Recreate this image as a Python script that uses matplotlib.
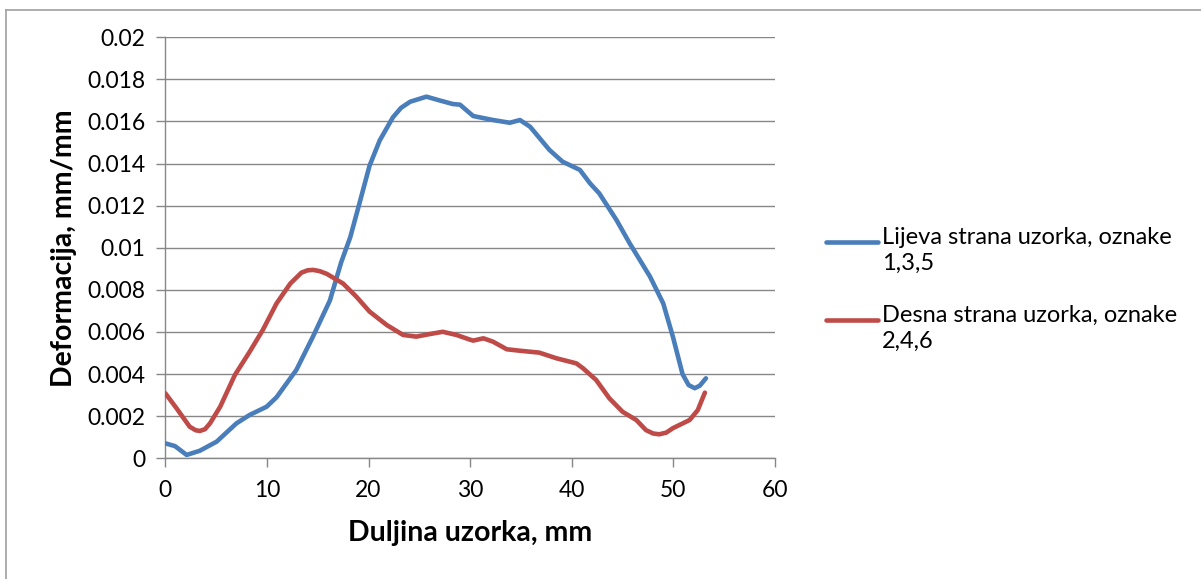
import matplotlib
matplotlib.use("Agg")
import matplotlib.pyplot as plt
from matplotlib.lines import Line2D
from matplotlib.ticker import FuncFormatter, MultipleLocator

# Lijeva strana uzorka (oznake 1,3,5)
lijeva_x = [0, 0.95, 2.1, 3.4, 5.05, 7.0, 8.3, 9.97, 10.95, 12.9, 14.55, 16.2, 17.3,
            18.2, 19.1, 20.1, 21.1, 22.4, 23.2, 24.1, 25.7, 27.0, 28.3, 29.0, 30.3, 32.25,
            33.9, 34.9, 35.9, 37.8, 39.1, 40.8, 41.8, 42.7, 44.4, 45.7, 47.7, 49.0,
            49.95, 50.9, 51.5, 52.1, 52.6, 53.2]
lijeva_y = [0.00071, 0.00058, 0.00016, 0.00036, 0.00079, 0.00166, 0.00206, 0.00245,
            0.0029, 0.0042, 0.0058, 0.0075, 0.0093, 0.0105, 0.0121, 0.0139, 0.0151,
            0.0162, 0.01665, 0.01694, 0.01718, 0.0170, 0.01683, 0.0168, 0.01626, 0.01607,
            0.01594, 0.01607, 0.01575, 0.01465, 0.01409, 0.0137, 0.01306, 0.01259,
            0.01132, 0.01021, 0.00863, 0.00736, 0.00578, 0.0040, 0.00348, 0.00333,
            0.00345, 0.0038]

# Desna strana uzorka (oznake 2,4,6)
desna_x = [0, 1.1, 2.4, 3.0, 3.4, 3.9, 4.4, 5.4, 6.85, 8.3, 9.6, 10.95, 12.3, 13.4,
           14.0, 14.55, 15.2, 15.9, 17.5, 18.8, 20.1, 21.8, 23.4, 24.7, 26.0, 27.3,
           28.65, 29.9, 30.3, 31.3, 32.25, 33.6, 34.9, 36.8, 38.5, 40.45, 41.1, 42.4,
           43.7, 45.0, 46.35, 47.3, 48.0, 48.6, 49.3, 49.95, 51.6, 52.4, 53.1]
desna_y = [0.00309, 0.00238, 0.0015, 0.00133, 0.0013, 0.00138, 0.00166, 0.00245,
           0.00396, 0.00506, 0.0061, 0.00736, 0.0083, 0.00882, 0.00893, 0.00895,
           0.00889, 0.00876, 0.0083, 0.00768, 0.00697, 0.00633, 0.00586, 0.00578,
           0.0059, 0.00601, 0.00586, 0.00565, 0.00559, 0.0057, 0.00554, 0.00518,
           0.00511, 0.00502, 0.00475, 0.00451, 0.00428, 0.00372, 0.00285, 0.00221,
           0.00182, 0.00134, 0.00118, 0.00114, 0.00122, 0.00143, 0.00182, 0.00229,
           0.00312]

series_labels = ["Lijeva strana uzorka, oznake\n1,3,5",
                 "Desna strana uzorka, oznake\n2,4,6"]
series_colors = ["#4A7EBB", "#BE4B48"]

W, H = 1201, 579
plt.rcParams['font.family'] = ['Lato', 'DejaVu Sans']
grey = "#878787"

fig = plt.figure(figsize=(W / 100, H / 100), dpi=100)
ax = fig.add_axes([165.3 / W, 1 - 458.3 / H, (775 - 165.3) / W, (458.3 - 37.3) / H])

for xs, ys, c in [(lijeva_x, lijeva_y, series_colors[0]),
                  (desna_x, desna_y, series_colors[1])]:
    ax.plot(xs, ys, color=c, lw=3.3, solid_capstyle='round',
            solid_joinstyle='round', zorder=3)

ax.set_xlim(0, 60)
ax.set_ylim(0, 0.02)
ax.xaxis.set_major_locator(MultipleLocator(10))
ax.yaxis.set_major_locator(MultipleLocator(0.002))
ax.yaxis.set_major_formatter(FuncFormatter(lambda v, p: f"{round(v, 4):g}"))

ax.grid(axis='y', color=grey, lw=1.0)
ax.set_axisbelow(True)
for side in ['top', 'right']:
    ax.spines[side].set_visible(False)
for side in ['left', 'bottom']:
    ax.spines[side].set_color(grey)
    ax.spines[side].set_linewidth(1.0)
ax.tick_params(axis='both', direction='out', length=6.5, width=1.0, color=grey,
               labelsize=16.5, labelcolor='black')
ax.tick_params(axis='y', pad=8)
ax.tick_params(axis='x', pad=9)

ax.set_xlabel("Duljina uzorka, mm", fontsize=20.5, fontweight='bold', labelpad=14)
ax.set_ylabel("Deformacija, mm/mm", fontsize=20.5, fontweight='bold', labelpad=7)

# legend on the right, handle aligned with the first text line
entry_tops = [242, 320]
for label, color, yc in zip(series_labels, series_colors, entry_tops):
    fig.add_artist(Line2D([826 / W, 878 / W], [1 - yc / H, 1 - yc / H],
                          color=color, lw=3.3, solid_capstyle='round'))
    fig.text(882 / W, 1 - (yc - 15) / H, label, fontsize=17, va='top', ha='left',
             linespacing=1.3, color='black')

# chart frame
fig.add_artist(Line2D([6 / W, 1], [1 - 10 / H, 1 - 10 / H], color="#a0a0a0", lw=1.2))
fig.add_artist(Line2D([6 / W, 6 / W], [0, 1 - 10 / H], color="#a0a0a0", lw=1.2))

fig.savefig("out.png", dpi=100)
